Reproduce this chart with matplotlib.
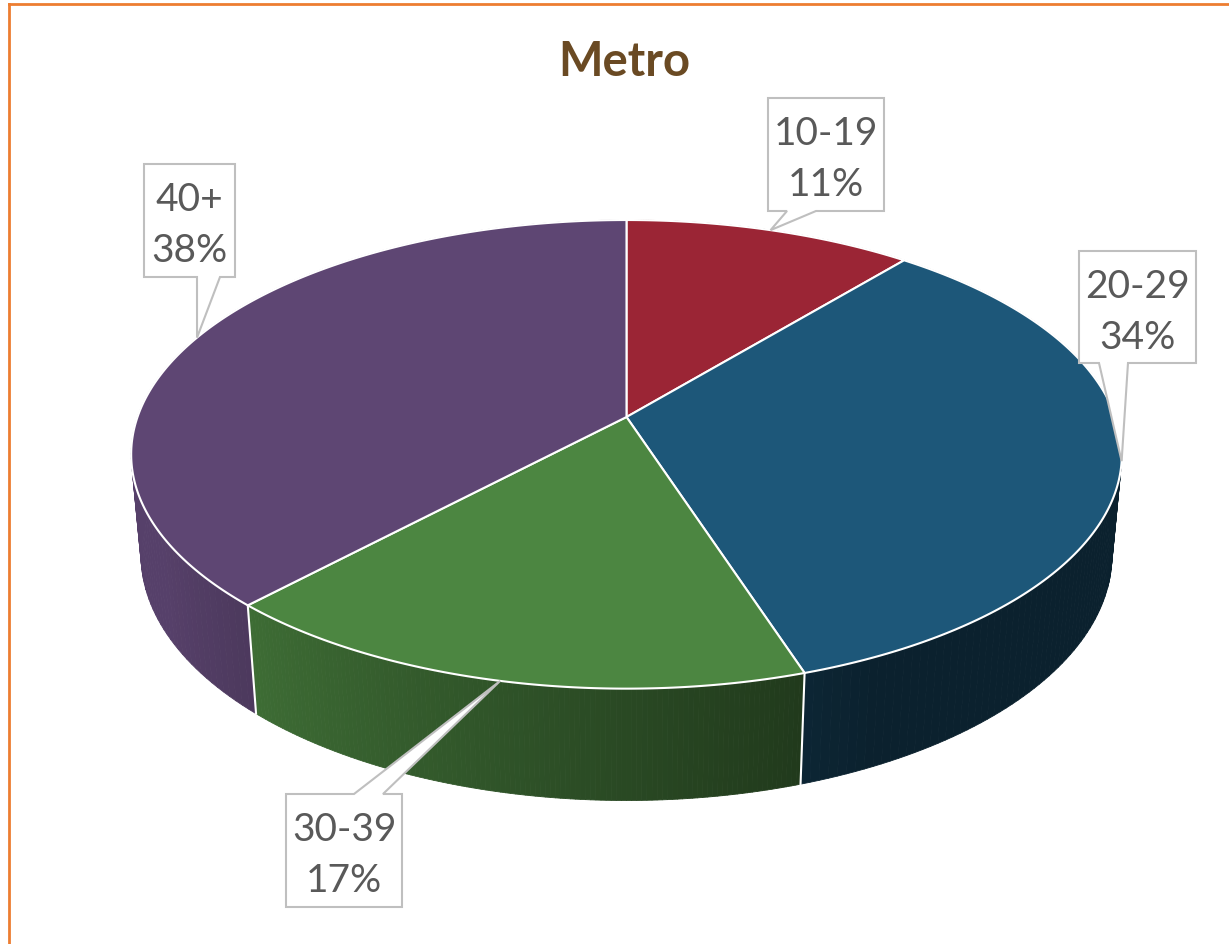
import numpy as np
import matplotlib
matplotlib.use("Agg")
import matplotlib.pyplot as plt
from matplotlib.patches import Polygon
from matplotlib.collections import PolyCollection

# data
categories = ["10-19", "20-29", "30-39", "40+"]
shares = [11, 34, 17, 38]
top_colors = ["#9B2535", "#1D5779", "#4C8641", "#5E4673"]

# callout boxes (x0, y0, x1, y1) and pointer base (offset from left, width)
boxes = [(768, 99, 884, 212), (1079, 252, 1196, 364),
         (286, 795, 402, 908), (144, 165, 235, 278)]
bases = [(19, 29), (20, 29), (68, 29), (53, 23)]

W, H = 1229, 945
fig = plt.figure(figsize=(W / 100, H / 100), dpi=100)
ax = fig.add_axes([0, 0, 1, 1])
ax.set_xlim(0, W)
ax.set_ylim(H, 0)
ax.axis("off")

# simple perspective projection of a flat cylinder
cx, cy, S = 626.5, 418, 489
alpha = np.arcsin(0.467)
sa, ca = np.sin(alpha), np.cos(alpha)
D = 5.55
h = 0.235


def proj(t, z=0.0):
    X, Y = np.cos(t), np.sin(t)
    f = D / (D + Y * ca - z * sa)
    return cx + S * X * f, cy - S * (Y * sa + z * ca) * f


def shade(color, t):
    td = np.degrees(np.arctan2(np.sin(t), np.cos(t)))
    tn = -abs(td)
    k = np.clip(0.45 + (-75 - tn) * 0.0062, 0.38, 0.92)
    rgb = np.array(matplotlib.colors.to_rgb(color))
    return tuple(rgb * k)


cum = np.concatenate([[0], np.cumsum(shares)])
angles = np.radians(90 - 3.6 * cum)

# side walls
quads, qcols, qdepth = [], [], []
for i, col in enumerate(top_colors):
    ts = np.linspace(angles[i], angles[i + 1], 120)
    for a, b in zip(ts[:-1], ts[1:]):
        p = [proj(a), proj(b), proj(b, -h), proj(a, -h)]
        quads.append(p)
        c = shade(col, (a + b) / 2)
        qcols.append(c)
        qdepth.append(np.sin((a + b) / 2))
order = np.argsort(qdepth)[::-1]
pc = PolyCollection([quads[j] for j in order], facecolors=[qcols[j] for j in order],
                    edgecolors=[qcols[j] for j in order], linewidths=0.6, zorder=1)
ax.add_collection(pc)

# white seams on the front wall
for a in angles:
    if np.sin(a) < 0:
        x0, y0 = proj(a)
        x1, y1 = proj(a, -h)
        ax.plot([x0, x1], [y0, y1], color="white", lw=1.5, zorder=2)

# top faces
for i, col in enumerate(top_colors):
    ts = np.linspace(angles[i], angles[i + 1], 200)
    pts = [(cx, cy)] + [proj(t) for t in ts]
    ax.add_patch(Polygon(pts, closed=True, facecolor=col, edgecolor="white",
                         lw=1.5, joinstyle="round", zorder=3))

# callouts
for i, (cat, val) in enumerate(zip(categories, shares)):
    x0, y0, x1, y1 = boxes[i]
    bo, bw = bases[i]
    mid = (angles[i] + angles[i + 1]) / 2
    tx, ty = proj(mid)
    if ty > y1:
        pts = [(x0, y0), (x1, y0), (x1, y1), (x0 + bo + bw, y1), (tx, ty),
               (x0 + bo, y1), (x0, y1)]
    else:
        pts = [(x0, y0), (x0 + bo, y0), (tx, ty), (x0 + bo + bw, y0),
               (x1, y0), (x1, y1), (x0, y1)]
    ax.add_patch(Polygon(pts, closed=True, facecolor="white", edgecolor="#BFBFBF",
                         lw=1.5, zorder=5))
    xc = (x0 + x1) / 2
    ax.text(xc, y0 + 46, cat, ha="center", va="baseline", fontsize=28,
            family="Lato", color="#595959", zorder=6)
    ax.text(xc, y0 + 97, f"{val}%", ha="center", va="baseline", fontsize=28,
            family="Lato", color="#595959", zorder=6)

ax.text(624, 76, "Metro", ha="center", va="baseline", fontsize=34,
        fontweight="bold", family="Lato", color="#6A4A23")

# orange chart frame (runs off right and bottom)
ax.plot([9, W + 5], [4.5, 4.5], color="#ED7D31", lw=2, zorder=10, clip_on=False)
ax.plot([9, 9], [4.5, H + 5], color="#ED7D31", lw=2, zorder=10, clip_on=False)

fig.savefig("out.png", dpi=100)
